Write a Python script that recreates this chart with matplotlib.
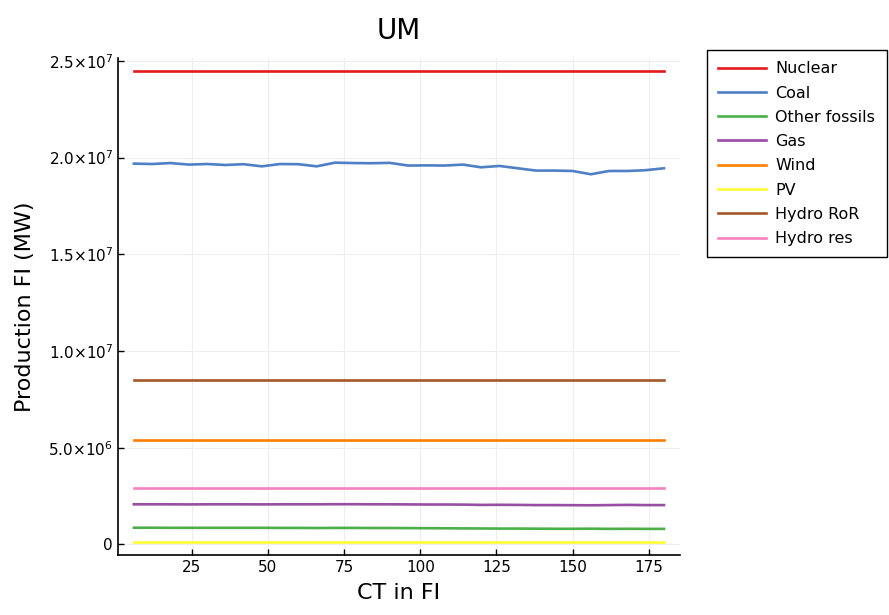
import matplotlib
matplotlib.use("Agg")
import matplotlib.pyplot as plt
import numpy as np

# CT values on x axis
ct = list(range(6, 181, 6))

nuclear = [2.449e7] * 30
coal = [1.969e7, 1.967e7, 1.972e7, 1.964e7, 1.967e7, 1.962e7, 1.966e7, 1.955e7, 1.967e7, 1.966e7,
        1.955e7, 1.974e7, 1.972e7, 1.971e7, 1.973e7, 1.959e7, 1.960e7, 1.959e7, 1.964e7, 1.950e7,
        1.957e7, 1.945e7, 1.933e7, 1.933e7, 1.931e7, 1.914e7, 1.931e7, 1.931e7, 1.935e7, 1.945e7]
other_fossils = [0.86e6, 0.86e6, 0.855e6, 0.855e6, 0.855e6, 0.855e6, 0.855e6, 0.855e6, 0.85e6, 0.85e6,
                 0.845e6, 0.85e6, 0.85e6, 0.845e6, 0.845e6, 0.84e6, 0.835e6, 0.83e6, 0.825e6, 0.82e6,
                 0.815e6, 0.815e6, 0.81e6, 0.805e6, 0.805e6, 0.81e6, 0.80e6, 0.805e6, 0.80e6, 0.80e6]
gas = [2.07e6, 2.07e6, 2.07e6, 2.065e6, 2.07e6, 2.07e6, 2.07e6, 2.065e6, 2.07e6, 2.07e6,
       2.07e6, 2.075e6, 2.075e6, 2.07e6, 2.07e6, 2.065e6, 2.06e6, 2.06e6, 2.055e6, 2.04e6,
       2.045e6, 2.04e6, 2.03e6, 2.03e6, 2.025e6, 2.02e6, 2.03e6, 2.04e6, 2.03e6, 2.03e6]
wind = [5.42e6] * 30
pv = [0.14e6] * 30
hydro_ror = [8.52e6] * 30
hydro_res = [2.89e6] * 30

labels = ["Nuclear", "Coal", "Other fossils", "Gas", "Wind", "PV", "Hydro RoR", "Hydro res"]
colors = ["#e41a1c", "#4f7fc4", "#4daf4a", "#984ea3", "#ff7f00", "#ffff33", "#a65628", "#f781bf"]

yticks = [0, 5e6, 1e7, 1.5e7, 2e7, 2.5e7]
ytick_labels = ["0", r"5.0×10$^{6}$", r"1.0×10$^{7}$", r"1.5×10$^{7}$", r"2.0×10$^{7}$", r"2.5×10$^{7}$"]
xticks = [25, 50, 75, 100, 125, 150, 175]

fig = plt.figure(figsize=(8.89, 6.15), dpi=100)
ax = fig.add_axes([0.1327, 0.0976, 0.632, 0.808])

series = [nuclear, coal, other_fossils, gas, wind, pv, hydro_ror, hydro_res]
for vals, lab, c in zip(series, labels, colors):
    ax.plot(ct, vals, color=c, linewidth=1.9, label=lab)

ax.set_xlim(0.78, 185.2)
ax.set_ylim(-0.055e7, 2.515e7)
ax.set_xticks(xticks)
ax.set_yticks(yticks)
ax.set_yticklabels(ytick_labels)
ax.tick_params(direction="in", length=4, width=1, labelsize=11, colors="black")
ax.grid(True, color="#eeeeee", linewidth=0.8)
ax.set_axisbelow(True)
for s in ["top", "right"]:
    ax.spines[s].set_visible(False)
for s in ["left", "bottom"]:
    ax.spines[s].set_linewidth(1.2)

ax.set_title("UM", fontsize=20, pad=14)
ax.set_xlabel("CT in FI", fontsize=16, labelpad=6)
ax.set_ylabel("Production FI (MW)", fontsize=16, labelpad=10)

leg = ax.legend(loc="upper left", bbox_to_anchor=(1.048, 1.016), fontsize=11.5,
                frameon=True, fancybox=False, edgecolor="black", framealpha=1,
                handlelength=3.0, handletextpad=0.6, labelspacing=0.58,
                borderpad=0.7, borderaxespad=0)
leg.get_frame().set_linewidth(1.0)

fig.savefig("out.png", dpi=100)
